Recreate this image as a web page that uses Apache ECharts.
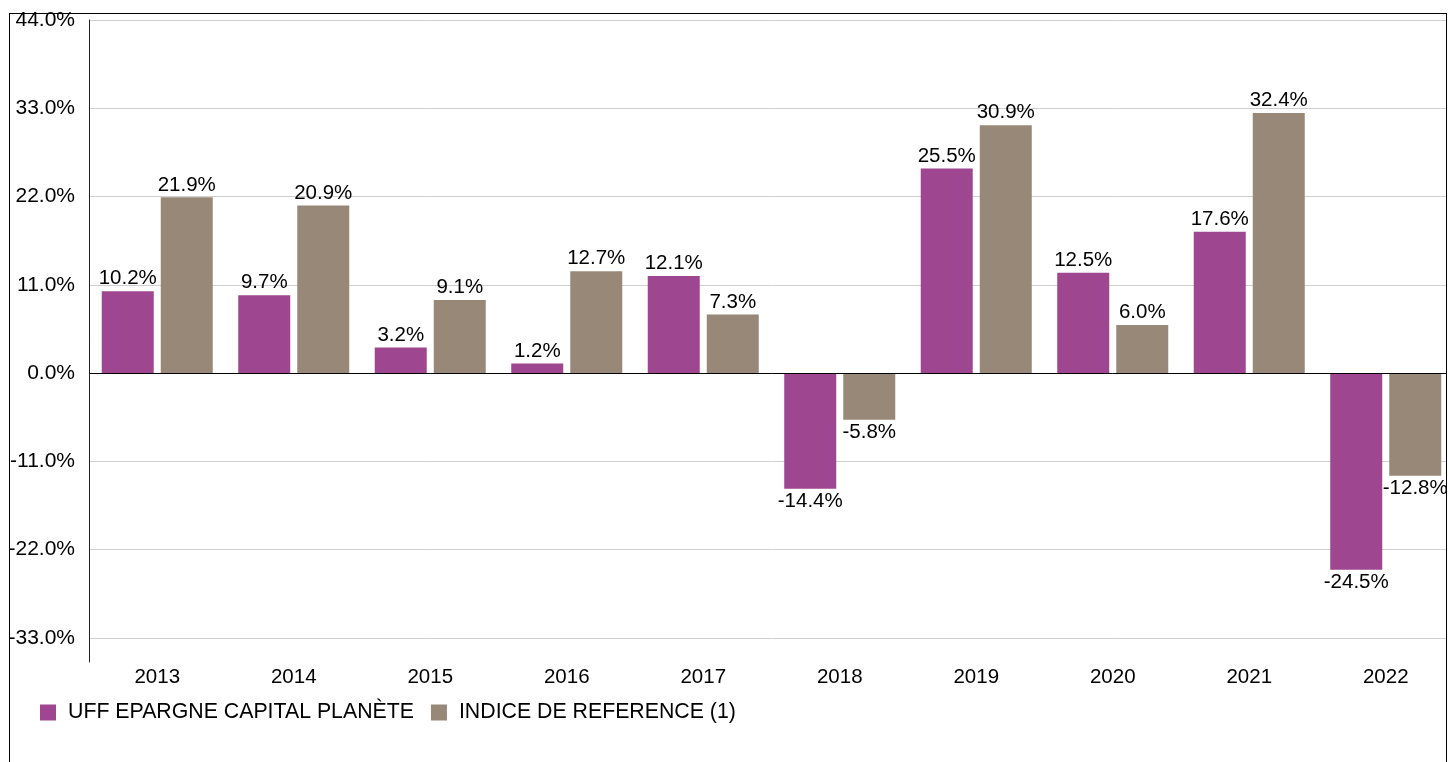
<!DOCTYPE html>
<html>
<head>
<meta charset="utf-8">
<script src="https://cdn.jsdelivr.net/npm/echarts@6/dist/echarts.min.js"></script>
<style>
  html, body { margin: 0; padding: 0; background: #fff; overflow: hidden; }
  #chart { position: absolute; left: 0; top: 0; width: 1460px; height: 762px; }
  .frame {
    position: absolute; left: 9px; top: 13px; width: 1436px; height: 760px;
    border: 1px solid #000; border-bottom: none; pointer-events: none;
  }
  .mask { position: absolute; left: 1447px; top: 0; width: 20px; height: 762px; background: #fff; }
</style>
</head>
<body>
<div id="chart"></div>
<div class="mask"></div>
<div class="frame"></div>
<script>
// years on the x axis
const years = ["2013", "2014", "2015", "2016", "2017", "2018", "2019", "2020", "2021", "2022"];
// yearly performance, in %
const fundValues = [10.2, 9.7, 3.2, 1.2, 12.1, -14.4, 25.5, 12.5, 17.6, -24.5];
const indexValues = [21.9, 20.9, 9.1, 12.7, 7.3, -5.8, 30.9, 6.0, 32.4, -12.8];
// y ticks shown
const yTicks = [-33, -22, -11, 0, 11, 22, 33, 44];

const seriesNames = ["UFF EPARGNE CAPITAL PLANÈTE", "INDICE DE REFERENCE (1)"];
const font = "'Liberation Sans', Arial, sans-serif";

const chart = echarts.init(document.getElementById("chart"));

const barLabel = {
  show: true,
  position: "outside",
  distance: 2,
  color: "#000",
  fontSize: 20.5,
  fontFamily: font,
  formatter: p => p.value.toFixed(1) + "%"
};

let option = {
  animation: false,
  color: ["#9e468f", "#988877"],
  legend: {
    left: 40,
    top: 702,
    padding: 0,
    icon: "rect",
    itemWidth: 16,
    itemHeight: 16,
    itemGap: 17,
    textStyle: {
      color: "#000",
      fontSize: 21.3,
      fontFamily: font,
      padding: [0, 0, 0, 7]
    },
    data: seriesNames
  },
  grid: {
    left: 89,
    top: 20,
    width: 1365,
    height: 642
  },
  xAxis: {
    type: "category",
    data: years,
    axisLine: { show: false },
    axisTick: { show: false },
    axisLabel: {
      color: "#000",
      fontSize: 20.5,
      fontFamily: font,
      margin: 5
    }
  },
  yAxis: {
    type: "value",
    min: -36,
    max: 44,
    axisLine: { show: true, lineStyle: { color: "#222", width: 1 } },
    axisTick: { show: false, customValues: yTicks },
    splitLine: { show: true, lineStyle: { color: "#cfcfcf", width: 1 } },
    axisLabel: {
      customValues: yTicks,
      color: "#000",
      fontSize: 21,
      fontFamily: font,
      margin: 14,
      formatter: v => v.toFixed(1) + "%"
    }
  },
  series: [
    {
      name: seriesNames[0],
      type: "bar",
      data: fundValues,
      barWidth: 52,
      barGap: "13.5%",
      label: barLabel,
      markLine: {
        silent: true,
        symbol: "none",
        label: { show: false },
        lineStyle: { color: "#000", width: 1, type: "solid" },
        data: [{ yAxis: 0 }]
      }
    },
    {
      name: seriesNames[1],
      type: "bar",
      data: indexValues,
      barWidth: 52,
      label: barLabel
    }
  ]
};

chart.setOption(option);
</script>
</body>
</html>
